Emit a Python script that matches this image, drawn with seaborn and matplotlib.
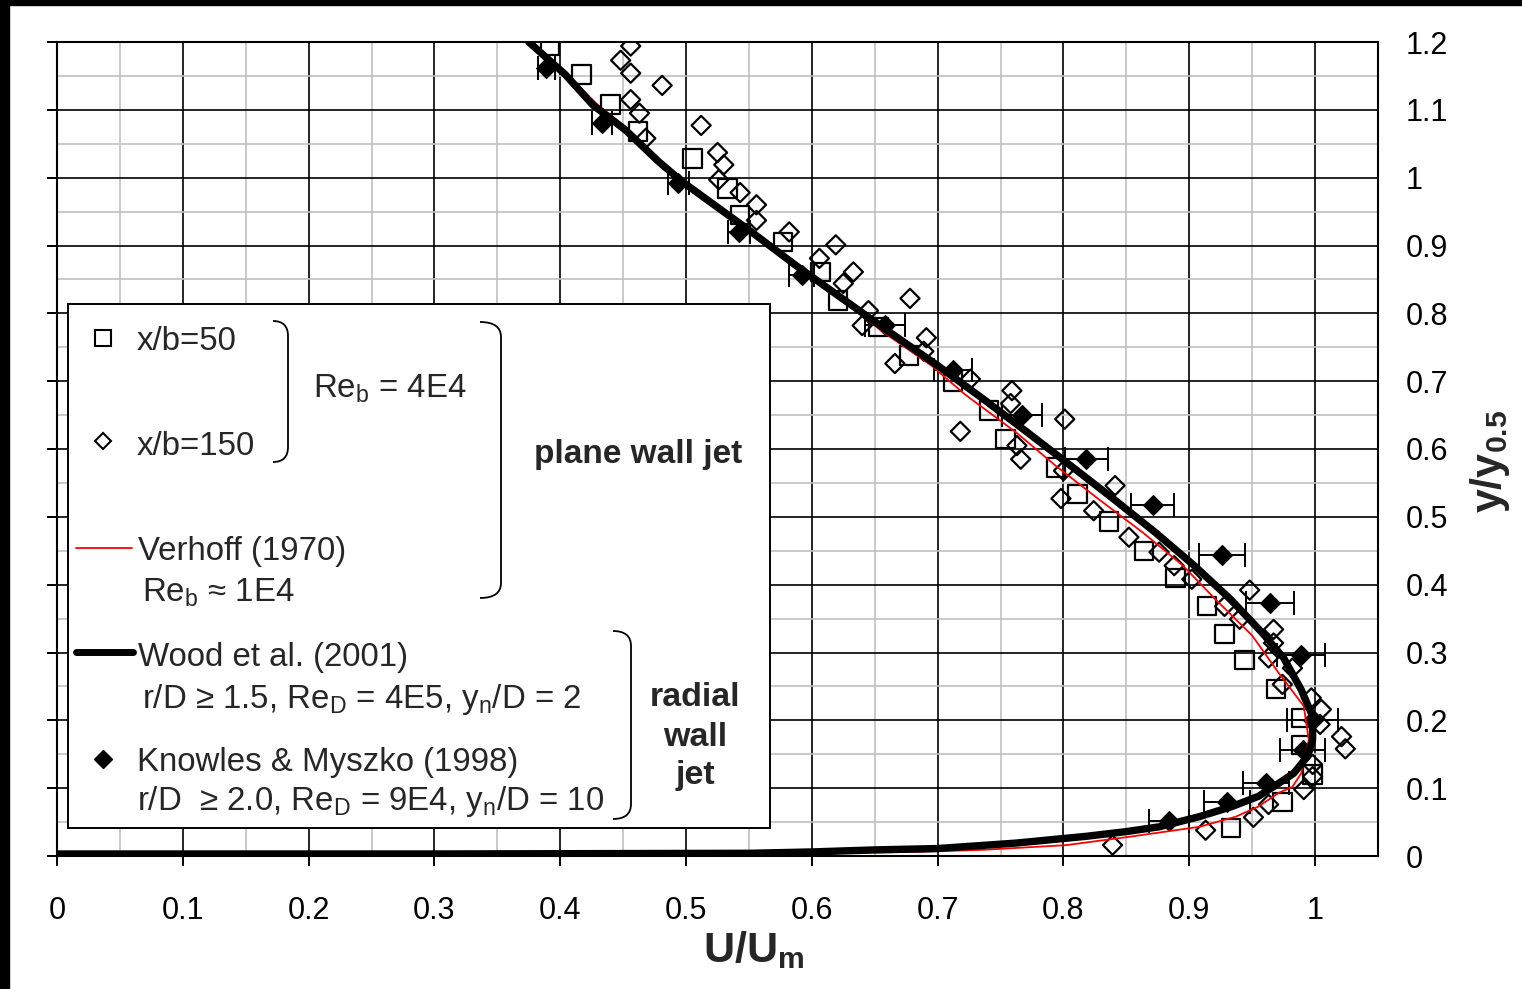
import seaborn as sns
import matplotlib.pyplot as plt
from matplotlib.patches import Rectangle, PathPatch
from matplotlib.path import Path
from matplotlib.lines import Line2D
from matplotlib.ticker import MultipleLocator, FuncFormatter

# x/b = 50 (open squares)
sq_u = [0.392, 0.417, 0.440, 0.462, 0.505, 0.533, 0.543, 0.577, 0.607, 0.621, 0.653,
        0.677, 0.712, 0.741, 0.754, 0.794, 0.811, 0.836, 0.864, 0.889, 0.914, 0.928,
        0.944, 0.969, 0.989, 0.989, 0.998, 0.974, 0.933]
sq_y = [1.194, 1.152, 1.108, 1.068, 1.028, 0.984, 0.945, 0.905, 0.861, 0.819, 0.780,
        0.738, 0.699, 0.657, 0.615, 0.573, 0.534, 0.493, 0.450, 0.410, 0.369, 0.327,
        0.289, 0.246, 0.203, 0.164, 0.120, 0.080, 0.041]

# x/b = 150 (open diamonds)
di_u = [0.456, 0.448, 0.456, 0.481, 0.456, 0.463, 0.468, 0.512, 0.525, 0.530, 0.526,
        0.543, 0.556, 0.556, 0.582, 0.619, 0.606, 0.633, 0.625, 0.678, 0.645, 0.640,
        0.691, 0.689, 0.666, 0.726, 0.718, 0.759, 0.758, 0.801, 0.763, 0.766, 0.798,
        0.800, 0.841, 0.824, 0.852, 0.876, 0.888, 0.902, 0.948, 0.928, 0.940, 0.967,
        0.967, 0.963, 0.982, 0.974, 0.997, 1.005, 1.004, 1.021, 1.024, 0.998, 0.998,
        0.991, 0.963, 0.951, 0.913, 0.839]
di_y = [1.194, 1.173, 1.154, 1.136, 1.115, 1.095, 1.058, 1.077, 1.037, 1.019, 0.997,
        0.978, 0.960, 0.937, 0.920, 0.901, 0.881, 0.861, 0.844, 0.822, 0.804, 0.782,
        0.764, 0.744, 0.726, 0.703, 0.626, 0.686, 0.667, 0.644, 0.605, 0.585, 0.527,
        0.568, 0.546, 0.509, 0.470, 0.448, 0.428, 0.408, 0.392, 0.368, 0.349, 0.334,
        0.314, 0.292, 0.277, 0.253, 0.233, 0.216, 0.194, 0.176, 0.158, 0.135, 0.117,
        0.098, 0.076, 0.057, 0.038, 0.016]

# Knowles & Myszko (1998)
kn_u = [0.389, 0.433, 0.494, 0.542, 0.592, 0.658, 0.712, 0.767, 0.818, 0.871, 0.926,
        0.964, 0.989, 0.998, 0.990, 0.961, 0.930, 0.884]
kn_y = [1.161, 1.080, 0.992, 0.920, 0.856, 0.783, 0.716, 0.650, 0.585, 0.517, 0.444,
        0.373, 0.296, 0.200, 0.156, 0.107, 0.080, 0.051]
kn_err = [0.007, 0.008, 0.008, 0.009, 0.010, 0.016, 0.015, 0.016, 0.017, 0.017, 0.018,
          0.019, 0.019, 0.020, 0.018, 0.018, 0.018, 0.016]

# Wood et al. (2001)
wood_u = [0.000, 0.300, 0.550, 0.600, 0.650, 0.700, 0.762, 0.818, 0.850, 0.876, 0.908,
          0.934, 0.955, 0.971, 0.983, 0.994, 0.998, 0.998, 0.989, 0.975, 0.958, 0.933,
          0.904, 0.873, 0.840, 0.806, 0.771, 0.736, 0.700, 0.662, 0.624, 0.587, 0.552,
          0.526, 0.497, 0.478, 0.452, 0.426, 0.404, 0.375]
wood_y = [0.003, 0.003, 0.004, 0.006, 0.009, 0.011, 0.019, 0.029, 0.036, 0.043, 0.058,
          0.073, 0.088, 0.107, 0.122, 0.147, 0.171, 0.206, 0.245, 0.292, 0.329, 0.378,
          0.428, 0.477, 0.526, 0.575, 0.625, 0.674, 0.723, 0.772, 0.822, 0.871, 0.920,
          0.955, 0.994, 1.024, 1.070, 1.107, 1.152, 1.200]

# Verhoff (1970)
ver_u = [0.000, 0.300, 0.600, 0.680, 0.735, 0.802, 0.855, 0.908, 0.937, 0.955, 0.971,
         0.982, 0.989, 0.995, 0.991, 0.971, 0.950, 0.921, 0.895, 0.863, 0.828, 0.794,
         0.762, 0.722, 0.695, 0.657, 0.622, 0.586, 0.552, 0.527, 0.497, 0.480, 0.455,
         0.430, 0.405, 0.378]
ver_y = [0.000, 0.002, 0.004, 0.006, 0.009, 0.016, 0.029, 0.043, 0.058, 0.073, 0.093,
         0.102, 0.122, 0.171, 0.221, 0.270, 0.325, 0.378, 0.428, 0.477, 0.526, 0.575,
         0.625, 0.680, 0.723, 0.772, 0.822, 0.871, 0.920, 0.955, 0.994, 1.024, 1.070,
         1.107, 1.152, 1.200]

W, H = 1522, 989

sns.set_theme(style="white")
plt.rcParams['font.family'] = ['Liberation Sans', 'DejaVu Sans']
plt.rcParams['mathtext.fontset'] = 'custom'
plt.rcParams['mathtext.rm'] = 'Liberation Sans'
plt.rcParams['mathtext.bf'] = 'Liberation Sans:bold'
plt.rcParams['mathtext.it'] = 'Liberation Sans:italic'


def fp(x, y):
    # pixel (from top-left) -> figure fraction
    return x / W, 1 - y / H


fig = plt.figure(figsize=(W / 100, H / 100), dpi=100)
fig.patch.set_facecolor('white')
ax = fig.add_axes([57 / W, 1 - 856 / H, (1378 - 57) / W, (856 - 42) / H])

ax.errorbar(kn_u, kn_y, xerr=kn_err, fmt='none', ecolor='black', elinewidth=1.4,
            capsize=8.5, capthick=1.4, zorder=3)
sns.scatterplot(x=sq_u, y=sq_y, marker='s', s=175, facecolors='none', edgecolors='black',
                linewidths=1.6, ax=ax, zorder=3)
sns.scatterplot(x=di_u, y=di_y, marker='D', s=95, facecolors='none', edgecolors='black',
                linewidths=1.6, ax=ax, zorder=3)
sns.scatterplot(x=kn_u, y=kn_y, marker='D', s=100, color='black', edgecolor='black',
                linewidth=1, ax=ax, zorder=4)
sns.lineplot(x=ver_u, y=ver_y, sort=False, estimator=None, color='red', lw=1.3,
             ax=ax, zorder=5)
sns.lineplot(x=wood_u, y=wood_y, sort=False, estimator=None, color='black', lw=5.3,
             ax=ax, zorder=6)

ax.set_xlim(0, 1.05)
ax.set_ylim(0, 1.2)
ax.xaxis.set_major_locator(MultipleLocator(0.1))
ax.xaxis.set_minor_locator(MultipleLocator(0.05))
ax.yaxis.set_major_locator(MultipleLocator(0.1))
ax.yaxis.set_minor_locator(MultipleLocator(0.05))
fmt = FuncFormatter(lambda v, pos: f'{v:g}')
ax.xaxis.set_major_formatter(fmt)
ax.yaxis.set_major_formatter(fmt)
ax.grid(which='minor', color='#c0c0c0', lw=1.2)
ax.grid(which='major', color='black', lw=1.2)
ax.set_axisbelow(True)
ax.tick_params(axis='x', which='major', direction='out', length=7, width=1.4, pad=22,
               labelsize=22, bottom=True, top=False, colors='black')
ax.tick_params(axis='y', which='major', direction='out', length=7, width=1.4, pad=13,
               labelsize=22, left=True, right=False, labelleft=False, labelright=True,
               colors='black')
ax.tick_params(which='minor', length=0)
for sp in ax.spines.values():
    sp.set_color('black')
    sp.set_linewidth(1.5)
ax.set_xlabel('')
ax.set_ylabel('')

fig.text(*fp(754, 962), r'U/U$_\mathbf{m}$', fontsize=31, fontweight='bold',
         ha='center', va='baseline')
fig.text(*fp(1490, 461), r'y/y$_\mathbf{0.5}$', fontsize=31, fontweight='bold',
         rotation=90, ha='center', va='center')

# black frame edges of the original screenshot
fig.add_artist(Rectangle((0, 0), 9 / W, 1, transform=fig.transFigure, color='black', zorder=10))
fig.add_artist(Rectangle((0, 1 - 5 / H), 1, 5 / H, transform=fig.transFigure, color='black', zorder=10))

# legend box drawn by hand
x0, y0 = fp(68, 828)
x1, y1 = fp(770, 304)
fig.add_artist(Rectangle((x0, y0), x1 - x0, y1 - y0, transform=fig.transFigure,
                         facecolor='white', edgecolor='black', lw=1.4, zorder=20))


def handle(xs, ys, **kw):
    pts = [fp(x, y) for x, y in zip(xs, ys)]
    fig.add_artist(Line2D([p[0] for p in pts], [p[1] for p in pts],
                          transform=fig.transFigure, zorder=21, **kw))


handle([103.5], [338], marker='s', ms=11, mfc='none', mec='black', mew=1.5, ls='none')
handle([103.5], [441], marker='D', ms=8, mfc='none', mec='black', mew=1.5, ls='none')
handle([76, 132], [547.5, 547.5], color='red', lw=1.3)
handle([76, 133], [651.5, 651.5], color='black', lw=5.0, solid_capstyle='round')
handle([103.5], [759], marker='D', ms=9, mfc='black', mec='black', ls='none')


def brace(xa, xb, ytop, ybot):
    r = 15
    verts = [fp(xa, ytop), fp(xb, ytop), fp(xb, ytop + r), fp(xb, ybot - r),
             fp(xb, ybot), fp(xa, ybot)]
    codes = [Path.MOVETO, Path.CURVE3, Path.CURVE3, Path.LINETO, Path.CURVE3, Path.CURVE3]
    fig.add_artist(PathPatch(Path(verts, codes), transform=fig.transFigure,
                             fill=False, edgecolor='black', lw=1.3, zorder=21))


brace(273, 288, 321, 462)
brace(480, 501, 322, 598)
brace(613, 631, 631, 819)

fs = 23.8
texts = [
    (137, 350, 'x/b=50'),
    (137, 455, 'x/b=150'),
    (313, 398, r'Re$_\mathrm{b}$ = 4E4'),
    (138, 560, 'Verhoff (1970)'),
    (142, 602, r'Re$_\mathrm{b}$ ≈ 1E4'),
    (138, 666, 'Wood et al. (2001)'),
    (142, 708, r'r/D ≥ 1.5, Re$_\mathrm{D}$ = 4E5, y$_\mathrm{n}$/D = 2'),
    (137, 771, 'Knowles & Myszko (1998)'),
    (137, 810, r'r/D  ≥ 2.0, Re$_\mathrm{D}$ = 9E4, y$_\mathrm{n}$/D = 10'),
]
for tx, ty, s in texts:
    fig.text(*fp(tx, ty), s, fontsize=fs, ha='left', va='baseline', zorder=22)

fig.text(*fp(638.5, 463), 'plane wall jet', fontsize=24, fontweight='bold',
         ha='center', va='baseline', zorder=22)
for ty, s in [(706, 'radial'), (746, 'wall'), (784, 'jet')]:
    fig.text(*fp(695, ty), s, fontsize=24.5, fontweight='bold', ha='center',
             va='baseline', zorder=22)

fig.savefig('out.png', dpi=100)
